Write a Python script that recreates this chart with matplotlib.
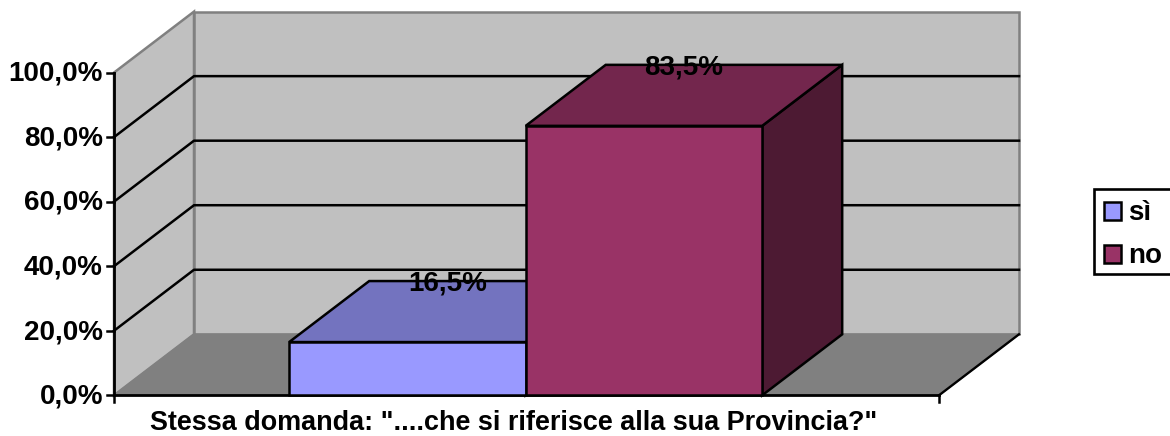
import numpy as np
import matplotlib
matplotlib.use("Agg")
import matplotlib.pyplot as plt
from matplotlib.patches import Polygon, Rectangle

categories = ["sì", "no"]
values = [16.5, 83.5]
value_labels = ["16,5%", "83,5%"]
y_ticks = [0, 20, 40, 60, 80, 100]
y_tick_labels = ["0,0%", "20,0%", "40,0%", "60,0%", "80,0%", "100,0%"]
x_label = 'Stessa domanda: "....che si riferisce alla sua Provincia?"'

front_colors = ["#9999FF", "#993366"]
top_colors = ["#7373BF", "#73264D"]
side_colors = ["#4D4D80", "#4D1A33"]

W, H = 1170, 436
# front plane of the 3d box in pixels
X0, X1 = 114, 939
Y0, Y100 = 395.3, 72.6
DX_PX, DY_PX = 80, 61

plt.rcParams["font.family"] = ["Liberation Sans", "DejaVu Sans"]

fig = plt.figure(figsize=(W / 100, H / 100), dpi=100, facecolor="white")
ax = fig.add_axes([X0 / W, 1 - Y0 / H, (X1 - X0) / W, (Y0 - Y100) / H])
ax.set_xlim(0, 1)
ax.set_ylim(0, 100)
ax.axis("off")

dx = DX_PX / (X1 - X0)
dy = DY_PX / (Y0 - Y100) * 100
bar_w = 236.5 / (X1 - X0)
px_x = 1 / (X1 - X0)
px_y = 100 / (Y0 - Y100)
bar_left = 0.5 - bar_w - 0.8 * px_x


def poly(points, color, z=2, lw=1.8, edge="black"):
    ax.add_patch(Polygon(points, closed=True, facecolor=color, edgecolor=edge,
                         linewidth=lw, clip_on=False, zorder=z, joinstyle="miter"))


# walls and floor
poly([(0, 0), (dx, dy), (dx, 100 + dy), (0, 100)], "#C0C0C0", edge="#808080")
poly([(dx, dy), (1 + dx, dy), (1 + dx, 100 + dy), (dx, 100 + dy)], "#C0C0C0", edge="#808080")
poly([(0, 0), (1, 0), (1 + dx, dy), (dx, dy)], "#808080", lw=1.0, edge="#808080")
ax.plot([0, 1], [0, 0], color="black", lw=2.0, clip_on=False, zorder=3)
ax.plot([0, 0], [0, 100], color="black", lw=2.0, clip_on=False, zorder=3)
ax.plot([1, 1 + dx], [0, dy], color="black", lw=1.7, clip_on=False, zorder=3)

# gridlines on back and side walls
for t in y_ticks[1:-1]:
    ax.plot([0, dx, 1 + dx], [t, t + dy, t + dy], color="black", lw=1.8,
            clip_on=False, zorder=3)

# ticks and tick labels
for t, lab in zip(y_ticks, y_tick_labels):
    ax.plot([-7 * px_x, 0], [t, t], color="black", lw=1.8, clip_on=False, zorder=3)
    ax.text(-11 * px_x, t - 0.4, lab, ha="right", va="center", fontsize=20,
            fontweight="bold", clip_on=False)
for xt in [0, 1]:
    ax.plot([xt, xt], [0, -7 * px_y], color="black", lw=1.8, clip_on=False, zorder=3)

# bars, drawn left to right
for i, v in enumerate(values):
    x0 = bar_left + i * bar_w
    x1 = x0 + bar_w
    poly([(x1, 0), (x1 + dx, dy), (x1 + dx, v + dy), (x1, v)], side_colors[i], z=4 + i)
    poly([(x0, v), (x1, v), (x1 + dx, v + dy), (x0 + dx, v + dy)], top_colors[i], z=4 + i)
    poly([(x0, 0), (x1, 0), (x1, v), (x0, v)], front_colors[i], z=4 + i)
    ax.text(x0 + bar_w / 2 + dx / 2, v + dy - 2.5 * px_y, value_labels[i], ha="center",
            va="center", fontsize=20, fontweight="bold", zorder=8, clip_on=False)

ax.text(0.5 - 12.5 * px_x, -(430 - Y0) * px_y, x_label, ha="center", va="baseline",
        fontsize=19.45, fontweight="bold", clip_on=False)

# legend box, in figure pixels; its right edge runs off the picture
fax = fig.add_axes([0, 0, 1, 1], zorder=10)
fax.set_xlim(0, W)
fax.set_ylim(H, 0)
fax.axis("off")
fax.add_patch(Rectangle((1094, 189), 80, 85, facecolor="white", edgecolor="black", lw=1.9,
                        clip_on=False))
for i, name in enumerate(categories):
    y = 211 + i * 43
    fax.add_patch(Rectangle((1104, y - 9), 17, 18, facecolor=front_colors[i],
                            edgecolor="black", lw=1.8))
    fax.text(1128, y + 2, name, ha="left", va="center", fontsize=20, fontweight="bold")

fig.savefig("out.png", dpi=100)
